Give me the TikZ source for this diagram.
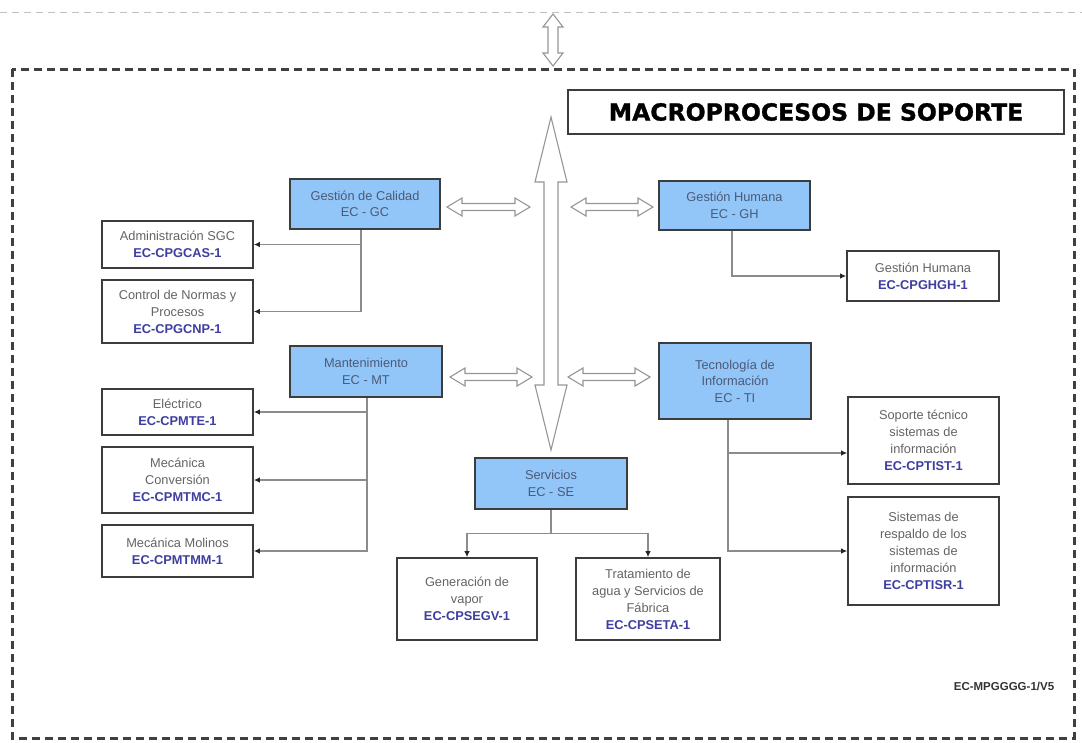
\documentclass[tikz,border=0pt]{standalone}
\usepackage{fontspec}
\setmainfont{Liberation Sans}
\newfontfamily\titlefont[BoldFeatures={FakeBold=1.3}]{DejaVu Sans}
\usetikzlibrary{arrows.meta}

\definecolor{boxblue}{RGB}{146,198,248}
\definecolor{codeblue}{RGB}{62,62,160}
\definecolor{txtgray}{RGB}{100,100,100}
\definecolor{bluetxt}{RGB}{75,90,120}
\definecolor{edge}{RGB}{60,60,60}
\definecolor{wire}{RGB}{140,140,140}
\definecolor{hollow}{RGB}{150,150,150}

\newcommand\code[1]{{\bfseries\color{codeblue}#1}}

% hollow double arrows: horizontal {y}{x1}{x2}{head length}{head half-width}{shaft half-width}
\newcommand\hdarrow[6]{%
  \draw[hollowarrow] (#2,#1) -- (#2+#4,#1-#5) -- (#2+#4,#1-#6) -- (#3-#4,#1-#6)
    -- (#3-#4,#1-#5) -- (#3,#1) -- (#3-#4,#1+#5) -- (#3-#4,#1+#6)
    -- (#2+#4,#1+#6) -- (#2+#4,#1+#5) -- cycle;}
% vertical {x}{y1}{y2}{head length}{head half-width}{shaft half-width}
\newcommand\vdarrow[6]{%
  \draw[hollowarrow] (#1,#2) -- (#1-#5,#2+#4) -- (#1-#6,#2+#4) -- (#1-#6,#3-#4)
    -- (#1-#5,#3-#4) -- (#1,#3) -- (#1+#5,#3-#4) -- (#1+#6,#3-#4)
    -- (#1+#6,#2+#4) -- (#1+#5,#2+#4) -- cycle;}

\tikzset{
  unit/.style={draw=edge, line width=1.6pt, fill=boxblue, text=bluetxt,
    align=center, inner sep=0pt, font=\fontsize{12.8}{16.5}\selectfont},
  sub/.style={draw=edge, line width=1.6pt, fill=white, text=txtgray,
    align=center, inner sep=0pt, font=\fontsize{12.8}{17}\selectfont},
  conn/.style={draw=wire, line width=1.2pt,
    -{Latex[length=6pt,width=5.5pt,color=black!85]}},
  hollowarrow/.style={draw=hollow, line width=1.1pt, fill=white, line join=miter},
  dashbox/.style={draw=black!75, line width=3pt, dash pattern=on 8pt off 5pt},
  lightdash/.style={draw=black!25, line width=1pt, dash pattern=on 7pt off 5pt},
}

\begin{document}
\begin{tikzpicture}[x=1pt,y=-1pt]
\useasboundingbox (0,0) rectangle (1082,742);

% frames
\draw[lightdash] (0,12) -- (1082,12);
\draw[dashbox] (12,69) rectangle (1074,738);
\vdarrow{553}{14}{66}{13}{10}{5}

% title
\node[draw=edge, line width=1.6pt, minimum width=496pt, minimum height=44pt,
  inner sep=0pt, font=\titlefont\bfseries\fontsize{23.5}{28}\selectfont]
  (title) at (816,112) {MACROPROCESOS DE SOPORTE};

% central exchange arrows
\vdarrow{551}{117}{450}{65}{16}{7}
\hdarrow{207}{447}{530}{15}{9}{3.5}
\hdarrow{207}{571}{653}{15}{9}{3.5}
\hdarrow{377}{450}{532}{15}{9}{3.5}
\hdarrow{377}{568}{650}{15}{9}{3.5}

% macroprocesses
\node[unit, minimum width=150pt, minimum height=50pt] (GC) at (365,204) {Gestión de Calidad\\EC - GC};
\node[unit, minimum width=151pt, minimum height=49pt] (GH) at (734.5,205.5) {Gestión Humana\\EC - GH};
\node[unit, minimum width=152pt, minimum height=51pt] (MT) at (366,371.5) {Mantenimiento\\EC - MT};
\node[unit, minimum width=152pt, minimum height=76pt] (TI) at (735,381) {Tecnología de\\Información\\EC - TI};
\node[unit, minimum width=152pt, minimum height=51pt] (SE) at (551,483.5) {Servicios\\EC - SE};

% processes
\node[sub, minimum width=151pt, minimum height=47pt] (SGC) at (177.5,244.5) {Administración SGC\\\code{EC-CPGCAS-1}};
\node[sub, minimum width=151pt, minimum height=63pt] (CNP) at (177.5,311.5) {Control de Normas y\\Procesos\\\code{EC-CPGCNP-1}};
\node[sub, minimum width=151pt, minimum height=46pt] (TE) at (177.5,412) {Eléctrico\\\code{EC-CPMTE-1}};
\node[sub, minimum width=151pt, minimum height=66pt] (TMC) at (177.5,480) {Mecánica\\Conversión\\\code{EC-CPMTMC-1}};
\node[sub, minimum width=151pt, minimum height=52pt] (TMM) at (177.5,551) {Mecánica Molinos\\\code{EC-CPMTMM-1}};
\node[sub, minimum width=140pt, minimum height=82pt] (SEGV) at (467,599) {Generación de\\vapor\\\code{EC-CPSEGV-1}};
\node[sub, minimum width=144pt, minimum height=82pt] (SETA) at (648,599) {Tratamiento de\\agua y Servicios de\\Fábrica\\\code{EC-CPSETA-1}};
\node[sub, minimum width=152pt, minimum height=50pt] (GHGH) at (923,276) {Gestión Humana\\\code{EC-CPGHGH-1}};
\node[sub, minimum width=151pt, minimum height=87pt] (TIST) at (923.5,440.5) {Soporte técnico\\sistemas de\\información\\\code{EC-CPTIST-1}};
\node[sub, minimum width=151pt, minimum height=108pt] (TISR) at (923.5,551) {Sistemas de\\respaldo de los\\sistemas de\\información\\\code{EC-CPTISR-1}};

% connectors
\draw[conn] ([xshift=-4pt]GC.south) |- (SGC.east);
\draw[conn] ([xshift=-4pt]GC.south) |- (CNP.east);
\draw[conn] ([xshift=1pt]MT.south) |- (TE.east);
\draw[conn] ([xshift=1pt]MT.south) |- (TMC.east);
\draw[conn] ([xshift=1pt]MT.south) |- (TMM.east);
\draw[conn] (SE.south) -- ++(0,24) -| (SEGV.north);
\draw[conn] (SE.south) -- ++(0,24) -| (SETA.north);
\draw[conn] ([xshift=-2.5pt]GH.south) |- (GHGH.west);
\draw[conn] ([xshift=-7pt]TI.south) |- ([yshift=-12.5pt]TIST.west);
\draw[conn] ([xshift=-7pt]TI.south) |- (TISR.west);

% document reference
\node[font=\bfseries\fontsize{11.5}{14}\selectfont, text=black!80] (ver) at (1004,686) {EC-MPGGGG-1/V5};
\end{tikzpicture}
\end{document}
